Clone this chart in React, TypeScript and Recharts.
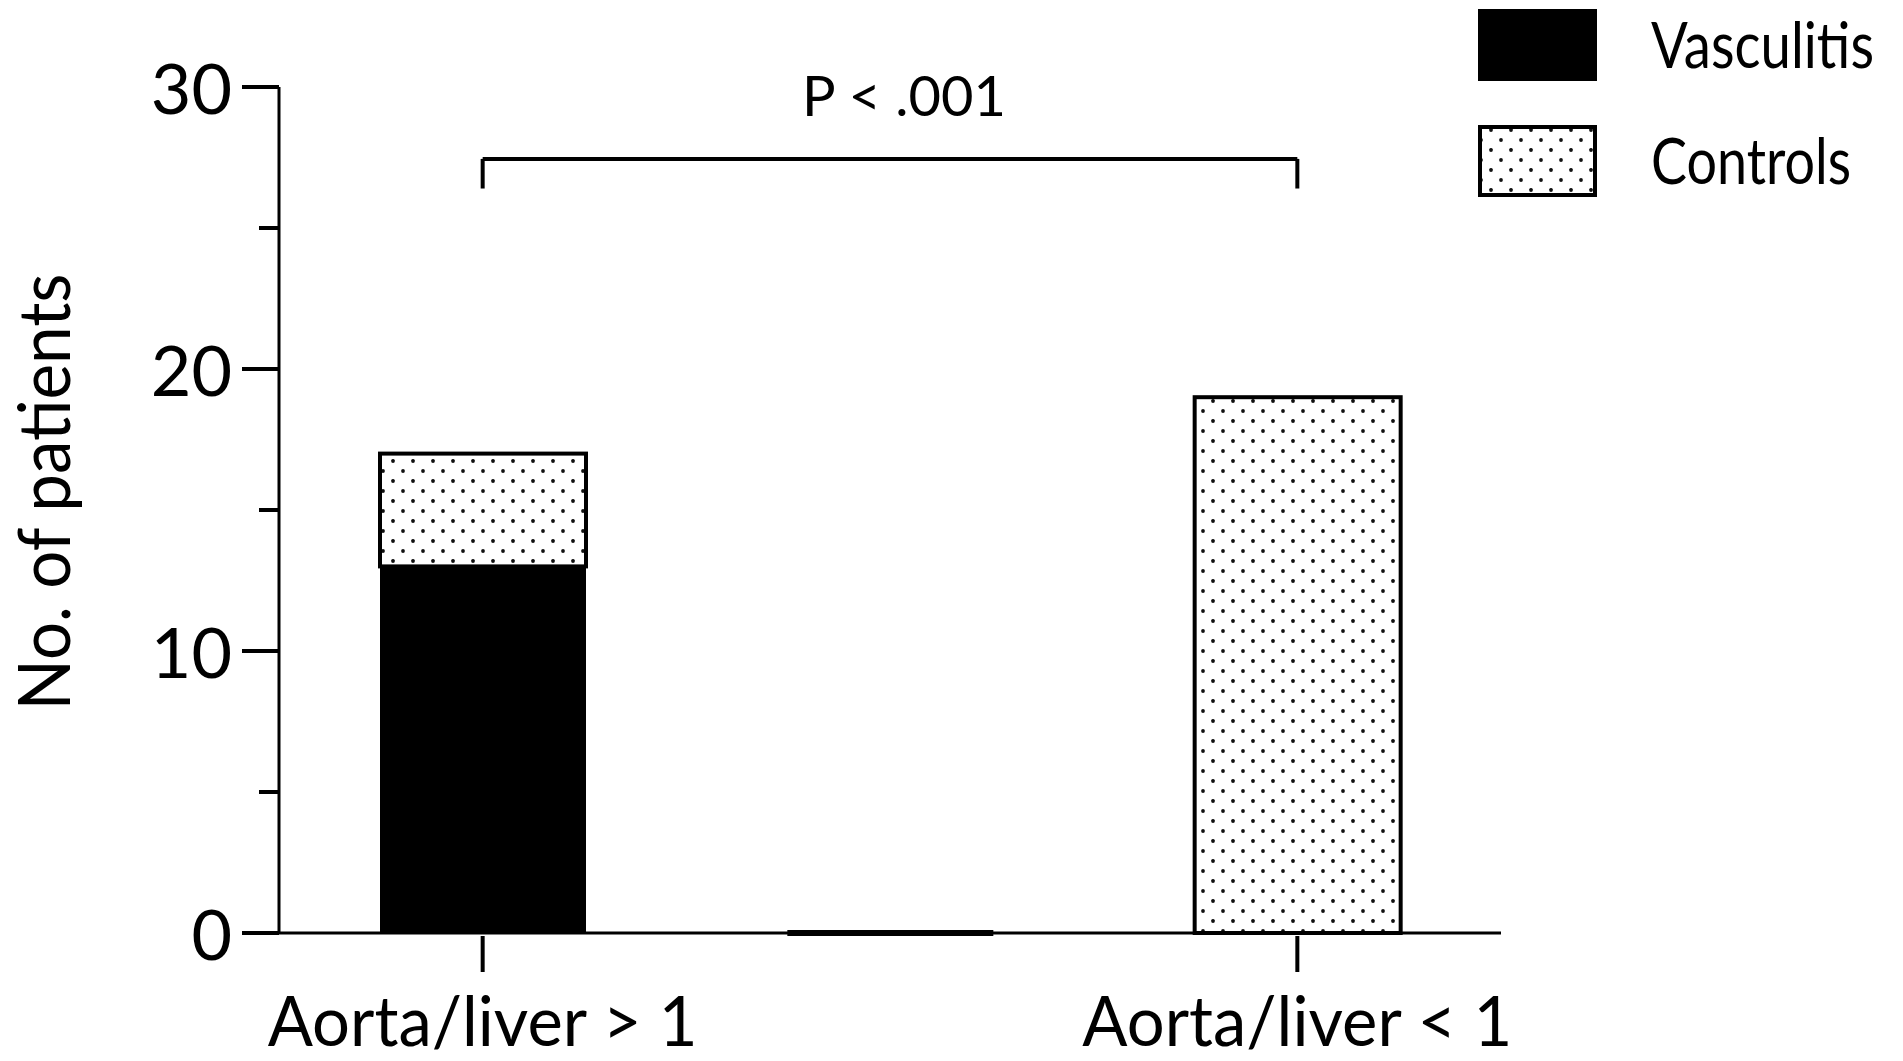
import { BarChart, Bar, XAxis, YAxis, ReferenceLine, Legend, Label } from 'recharts';

const categories = ['Aorta/liver > 1', '', 'Aorta/liver < 1'];
const vasculitis = [13, 0, 0];
const controls = [4, 0, 19];
const seriesNames = ['Vasculitis', 'Controls'];
const yTicks = [0, 5, 10, 15, 20, 25, 30];
const majorTicks = [0, 10, 20, 30];
const pText = 'P < .001';
const bracketTop = 27.45;
const bracketFoot = 26.4;

const FONT = 'Lato, "Open Sans", sans-serif';

const data = categories.map((cat, i) => ({
  cat,
  vasculitis: vasculitis[i],
  controls: controls[i],
}));

function YTick({ x, y, payload }: any) {
  const major = majorTicks.includes(payload.value);
  return (
    <g>
      <line x1={x - (major ? 37 : 20)} x2={x} y1={y} y2={y} stroke="#000" strokeWidth={4} />
      {major && (
        <text x={x - 47} y={y} textAnchor="end" dominantBaseline="central" fontSize={70} fontFamily={FONT} fill="#000">
          {payload.value}
        </text>
      )}
    </g>
  );
}

function XTick({ x, y, payload }: any) {
  if (!payload.value) return <g />;
  return (
    <g>
      <line x1={x} x2={x} y1={y + 3} y2={y + 39} stroke="#000" strokeWidth={4} />
      <text
        x={x}
        y={y + 113}
        textAnchor="middle"
        fontSize={70}
        fontFamily={FONT}
        fill="#000"
        textLength={430}
        lengthAdjust="spacingAndGlyphs"
      >
        {payload.value}
      </text>
    </g>
  );
}

// zero-height bar still shows as a thick stroke on the baseline
function BarShape(props: any) {
  const { x, y, width, height, fill, payload, dataKey } = props;
  if (!height) {
    if (payload.cat !== '' || dataKey !== 'vasculitis') return <g />;
    return <rect x={x} y={y - 3} width={width} height={6} fill="#000" />;
  }
  return (
    <rect
      x={x}
      y={y}
      width={width}
      height={height}
      fill={fill}
      stroke="#000"
      strokeWidth={fill === '#000' ? 0 : 4}
    />
  );
}

const legendWidths: Record<string, number> = { Vasculitis: 223, Controls: 200 };

function LegendContent({ payload }: any) {
  const items = seriesNames
    .map((n) => (payload || []).find((p: any) => p.value === n))
    .filter(Boolean);
  return (
    <svg width={410} height={200}>
      {items.map((entry: any, i: number) => {
        const top = i * 116;
        const solid = entry.color === '#000';
        return (
          <g key={entry.value}>
            {solid ? (
              <rect x={0} y={top} width={119} height={72} fill="#000" />
            ) : (
              <rect x={2} y={top + 2} width={115} height={68} fill={entry.color} stroke="#000" strokeWidth={4} />
            )}
            <text
              x={173}
              y={top + 59}
              fontSize={63}
              fontFamily={FONT}
              fill="#000"
              textLength={legendWidths[entry.value]}
              lengthAdjust="spacingAndGlyphs"
            >
              {entry.value}
            </text>
          </g>
        );
      })}
    </svg>
  );
}

export default function App() {
  return (
    <div style={{ position: 'absolute', left: 0, top: 0, width: 1903, height: 1061, background: '#fff' }}>
      <svg width={0} height={0} style={{ position: 'absolute' }}>
        <defs>
          <pattern id="dots" patternUnits="userSpaceOnUse" width={20} height={20}>
            <rect width={20} height={20} fill="#fff" />
            <circle cx={13} cy={1} r={1.9} fill="#111" />
            <circle cx={3} cy={11} r={1.9} fill="#111" />
            <circle cx={13} cy={21} r={1.9} fill="#111" />
          </pattern>
        </defs>
      </svg>
      <BarChart
        width={1903}
        height={1061}
        data={data}
        margin={{ top: 87, right: 402, left: 0, bottom: 0 }}
        barSize={206}
      >
        <XAxis
          dataKey="cat"
          height={128}
          axisLine={{ stroke: '#000', strokeWidth: 3 }}
          tickLine={false}
          tickSize={0}
          tickMargin={0}
          tick={<XTick />}
          interval={0}
        />
        <YAxis
          width={279}
          domain={[0, 30]}
          ticks={yTicks}
          axisLine={{ stroke: '#000', strokeWidth: 3 }}
          tickLine={false}
          tickSize={0}
          tickMargin={0}
          tick={<YTick />}
          interval={0}
        >
          <Label
            content={() => (
              <text
                transform="translate(70,492) rotate(-90)"
                textAnchor="middle"
                fontSize={72}
                fontFamily={FONT}
                fill="#000"
                textLength={437}
                lengthAdjust="spacingAndGlyphs"
              >
                No. of patients
              </text>
            )}
          />
        </YAxis>
        <Legend
          layout="horizontal"
          verticalAlign="middle"
          align="center"
          wrapperStyle={{ left: 1478, top: 9, width: 410, height: 200 }}
          content={<LegendContent />}
        />
        <Bar dataKey="vasculitis" name="Vasculitis" stackId="a" fill="#000" shape={<BarShape />} isAnimationActive={false} />
        <Bar dataKey="controls" name="Controls" stackId="a" fill="url(#dots)" shape={<BarShape />} isAnimationActive={false} />
        <ReferenceLine
          segment={[{ x: categories[0], y: bracketTop }, { x: categories[2], y: bracketTop }]}
          stroke="#000"
          strokeWidth={4}
          ifOverflow="visible"
          label={{ value: pText, position: 'top', offset: 43, fontSize: 56, fill: '#000', fontFamily: FONT, dx: 14 }}
        />
        <ReferenceLine
          segment={[{ x: categories[0], y: bracketTop }, { x: categories[0], y: bracketFoot }]}
          stroke="#000"
          strokeWidth={4}
          ifOverflow="visible"
        />
        <ReferenceLine
          segment={[{ x: categories[2], y: bracketTop }, { x: categories[2], y: bracketFoot }]}
          stroke="#000"
          strokeWidth={4}
          ifOverflow="visible"
        />
      </BarChart>
    </div>
  );
}
